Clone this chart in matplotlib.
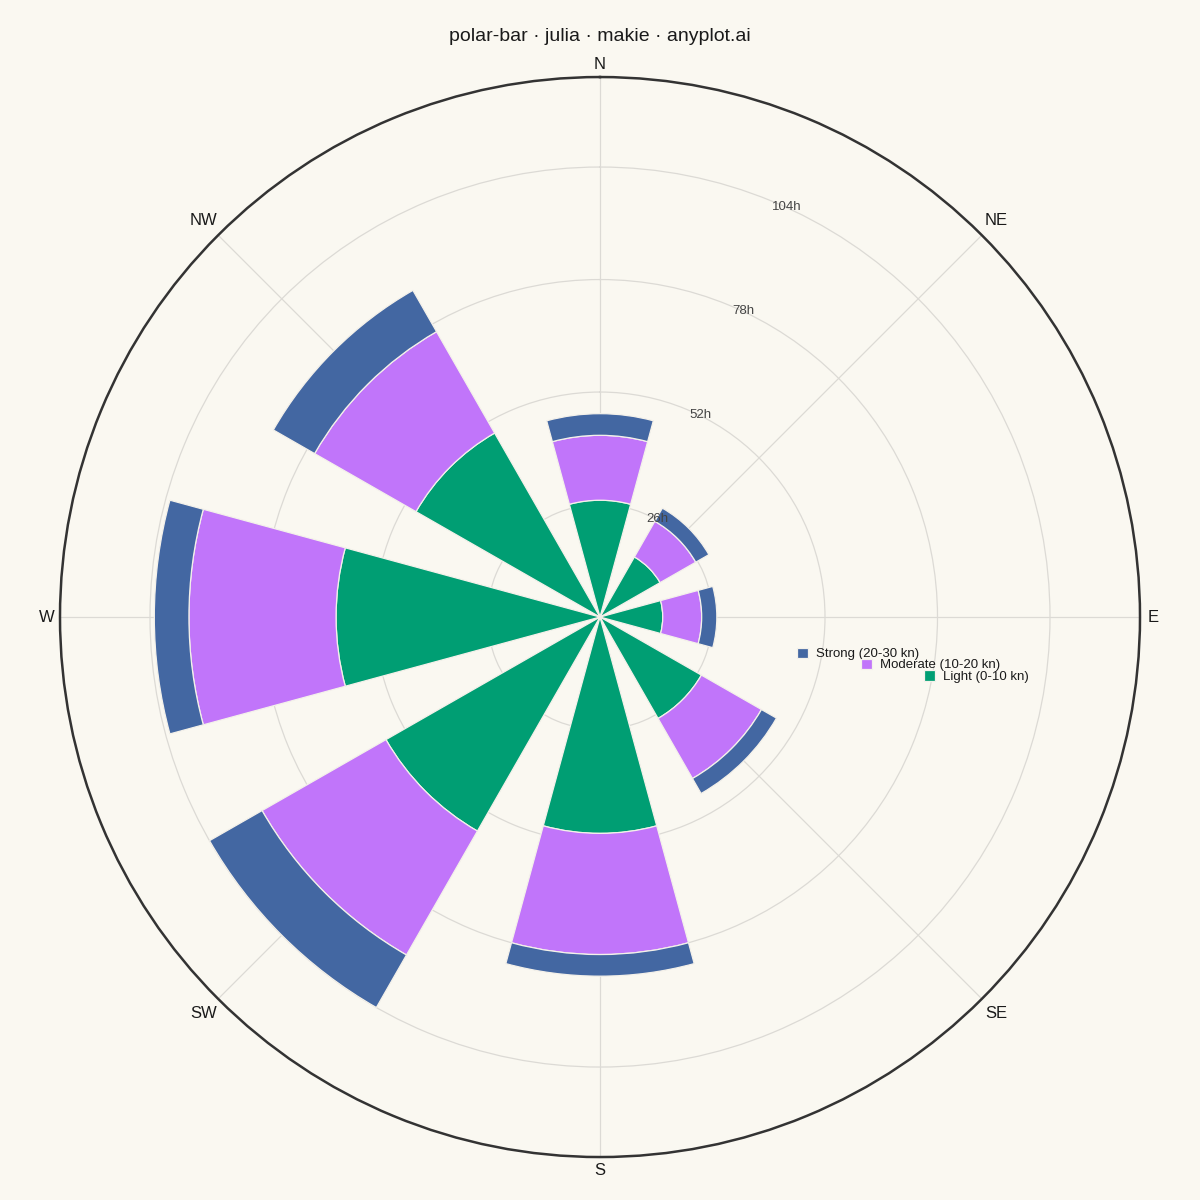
import numpy as np
import matplotlib
matplotlib.use("Agg")
import matplotlib.pyplot as plt

# ---- data ----
directions = ["N", "NE", "E", "SE", "S", "SW", "W", "NW"]
light = [27, 16, 14.5, 27, 50, 57, 61, 49]
moderate = [15, 9.5, 9, 16, 28, 33, 34, 27]
strong = [5, 3.5, 3.5, 4, 5, 14, 8, 11]
series_labels = ["Light (0-10 kn)", "Moderate (10-20 kn)", "Strong (20-30 kn)"]
r_ticks = [26, 52, 78, 104]
r_tick_labels = ["26h", "52h", "78h", "104h"]

# ---- style ----
BG = "#FAF8F1"
C_LIGHT = "#009E73"
C_MOD = "#C175FA"
C_STRONG = "#4367A2"
plt.rcParams["font.family"] = ["Liberation Sans", "DejaVu Sans"]

fig = plt.figure(figsize=(12, 12), dpi=100, facecolor=BG)
ax = fig.add_axes([0.05, 0.0358, 0.9, 0.9], projection="polar")
ax.set_facecolor(BG)
ax.set_theta_zero_location("N")
ax.set_theta_direction(-1)

theta = np.deg2rad(np.arange(len(directions)) * 45.0)
width = np.deg2rad(30.4)
light_a = np.array(light)
mod_a = np.array(moderate)
strong_a = np.array(strong)

b1 = ax.bar(theta, light_a, width=width, bottom=0, color=C_LIGHT,
            edgecolor="#F4F1EA", linewidth=0.9, zorder=3)
b2 = ax.bar(theta, mod_a, width=width, bottom=light_a, color=C_MOD,
            edgecolor="#F4F1EA", linewidth=0.9, zorder=3)
b3 = ax.bar(theta, strong_a, width=width, bottom=light_a + mod_a, color=C_STRONG,
            edgecolor="#F4F1EA", linewidth=0.9, zorder=3)

rmax = max(light_a + mod_a + strong_a) * 1.2
ax.set_ylim(0, rmax)
ax.set_yticks(r_ticks)
ax.set_yticklabels([])
ax.set_xticks(theta)
ax.set_xticklabels([])
ax.grid(True, color="#DCDAD5", linewidth=0.9)
ax.set_axisbelow(True)
ax.spines["polar"].set_color("#333333")
ax.spines["polar"].set_linewidth(1.8)
ax.tick_params(length=0)

# direction labels
for i, (t, d) in enumerate(zip(theta, directions)):
    dist = 553.0 if i % 2 == 0 else 561.0
    ax.text(t, rmax * dist / 540, d, ha="center", va="center",
            fontsize=12, color="#1a1a1a", clip_on=False)

# radial labels
lab_t = np.deg2rad(22.5)
for rv, lab in zip(r_ticks, r_tick_labels):
    ax.annotate(lab, xy=(lab_t, rv), xytext=(10.5, -4.3), textcoords="offset points",
                ha="center", va="center", fontsize=9.5, color="#444444", zorder=5)

# title
fig.text(0.5, 1 - 41 / 1200, "polar-bar · julia · makie · anyplot.ai",
         ha="center", va="baseline", fontsize=14, color="#1a1a1a")

# staggered legend entries (Strong, Moderate, Light)
entries = [(b3, series_labels[2], 797, 654),
           (b2, series_labels[1], 861, 665),
           (b1, series_labels[0], 924, 676.5)]
for h, lab, px, py in entries:
    lg = fig.legend([h], [lab], loc="center left",
                    bbox_to_anchor=(px / 1200, 1 - py / 1200),
                    frameon=False, fontsize=9.5, handlelength=0.85,
                    handleheight=0.85, handletextpad=0.6, borderpad=0,
                    borderaxespad=0)
    for t in lg.get_texts():
        t.set_color("#1a1a1a")

fig.savefig("out.png", dpi=100, facecolor=BG)
